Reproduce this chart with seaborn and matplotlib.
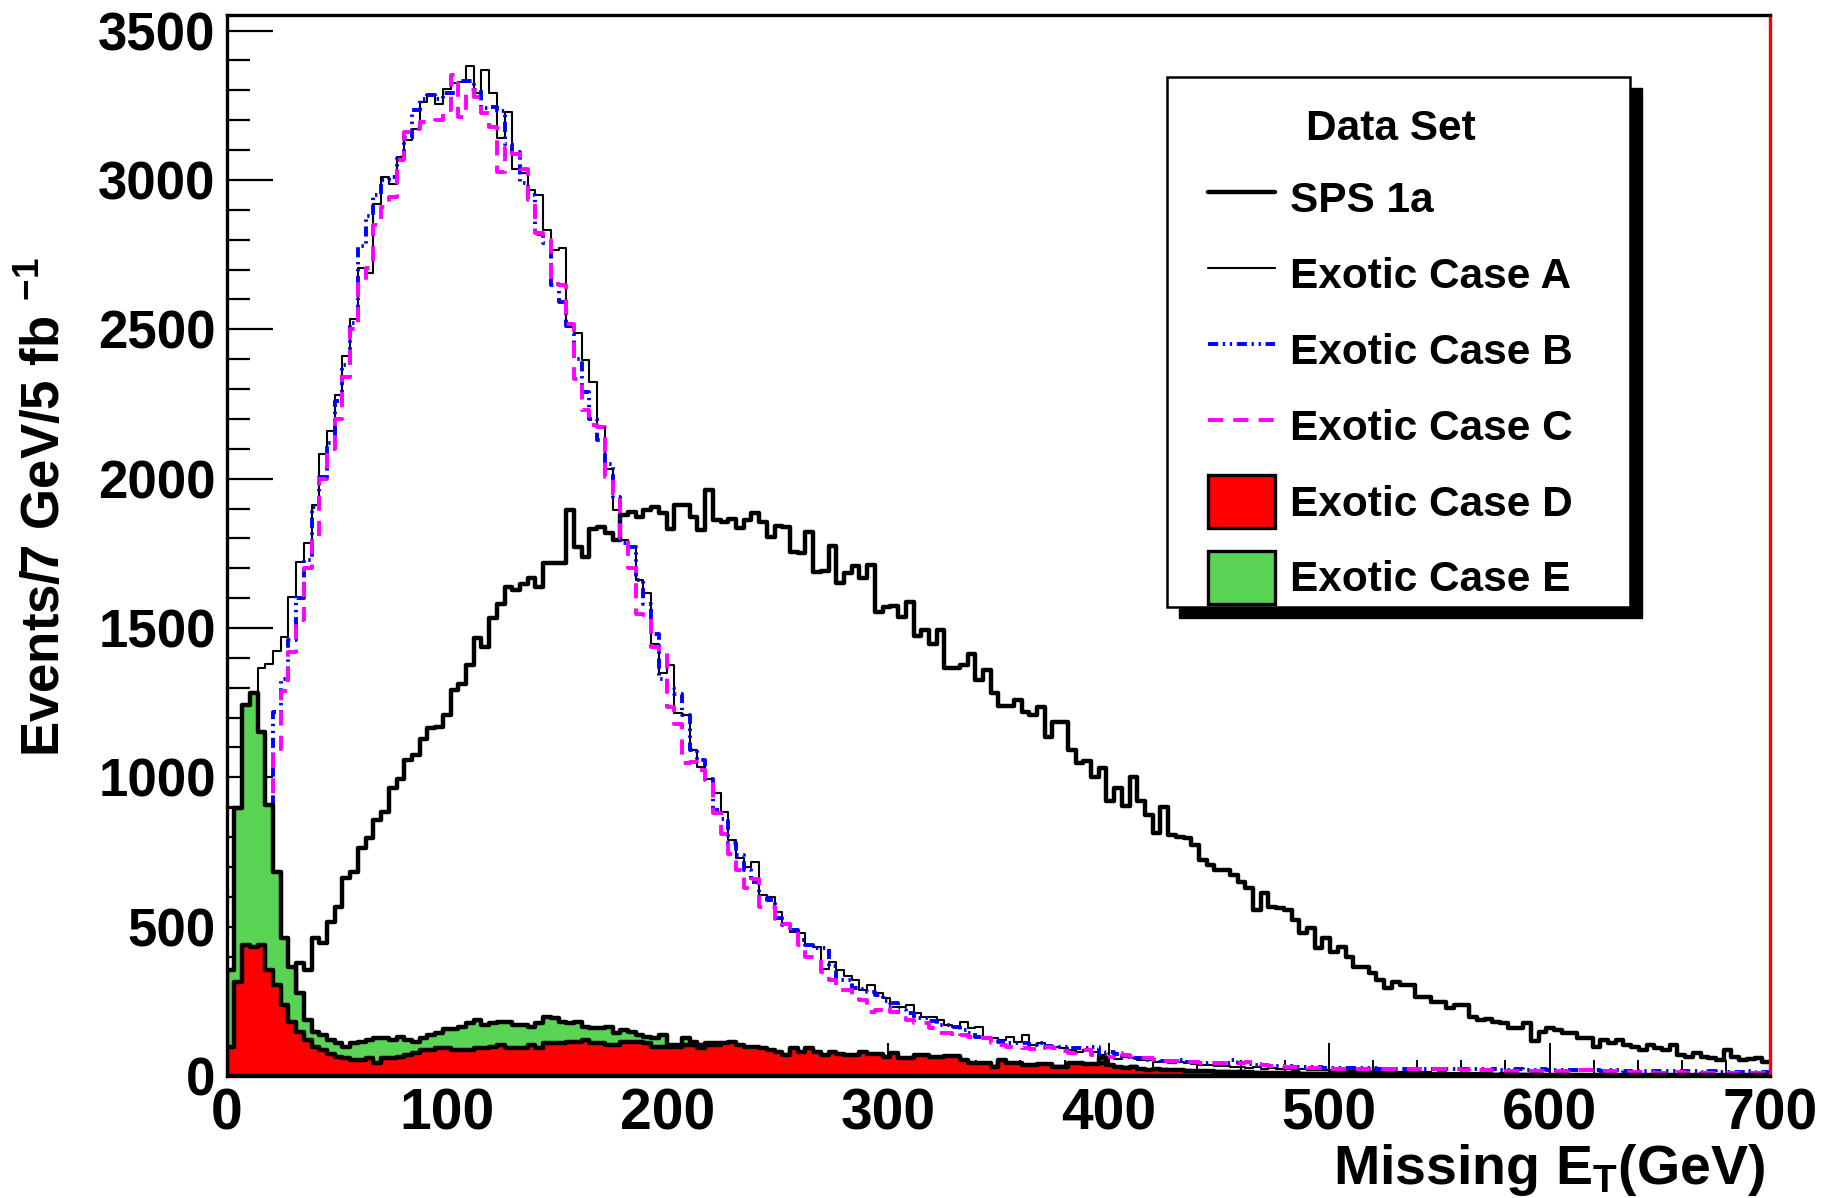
import numpy as np
import pandas as pd
import matplotlib
matplotlib.use("Agg")
import matplotlib.pyplot as plt
import matplotlib.ticker as mticker
from matplotlib.lines import Line2D
from matplotlib.patches import Patch, Rectangle
import seaborn as sns

sns.set_theme(style="ticks")
plt.rcParams["font.family"] = ["Liberation Sans", "DejaVu Sans"]
plt.rcParams["font.weight"] = "bold"
plt.rcParams["mathtext.fontset"] = "custom"
plt.rcParams["mathtext.rm"] = "Liberation Sans:bold"
plt.rcParams["mathtext.it"] = "Liberation Sans:bold"
plt.rcParams["mathtext.bf"] = "Liberation Sans:bold"
for key in ["text.color", "axes.labelcolor", "xtick.color", "ytick.color", "axes.edgecolor"]:
    plt.rcParams[key] = "black"

# 200 bins of 3.5 GeV from 0 to 700 GeV
edges = [3.5 * i for i in range(201)]
centers = [3.5 * i + 1.75 for i in range(200)]

sps1a = [
    0, 0, 0, 0, 0, 0, 0, 0, 0, 380,
    355, 461, 444, 517, 567, 662, 684, 762, 796, 857,
    885, 963, 996, 1058, 1074, 1130, 1164, 1169, 1208, 1292,
    1314, 1376, 1465, 1437, 1532, 1582, 1638, 1627, 1649, 1666,
    1638, 1718, 1718, 1718, 1895, 1772, 1738, 1833, 1839, 1817,
    1794, 1878, 1889, 1872, 1895, 1906, 1884, 1833, 1911, 1911,
    1872, 1828, 1962, 1862, 1856, 1865, 1834, 1862, 1884, 1856,
    1806, 1842, 1837, 1756, 1750, 1823, 1689, 1692, 1776, 1650,
    1683, 1708, 1666, 1711, 1555, 1571, 1574, 1538, 1588, 1474,
    1493, 1446, 1493, 1365, 1365, 1376, 1413, 1326, 1359, 1284,
    1239, 1239, 1259, 1220, 1209, 1234, 1134, 1186, 1186, 1092,
    1047, 1056, 1000, 1030, 922, 963, 904, 1000, 921, 874,
    813, 902, 807, 801, 796, 774, 723, 707, 690, 690,
    673, 651, 628, 556, 612, 567, 562, 556, 522, 478,
    495, 428, 461, 416, 433, 400, 366, 366, 344, 322,
    294, 316, 305, 305, 266, 266, 249, 249, 227, 238,
    238, 199, 188, 190, 182, 176, 160, 160, 176, 118,
    149, 160, 154, 143, 143, 126, 126, 98, 121, 110,
    121, 104, 98, 87, 104, 93, 87, 104, 70, 65,
    76, 65, 59, 54, 87, 65, 54, 56, 59, 48,
]

case_a = [
    896, 900, 1245, 1285, 1365, 1381, 1424, 1471, 1605, 1722,
    1785, 1911, 2084, 2160, 2279, 2410, 2536, 2704, 2687, 2921,
    3011, 2988, 3077, 3133, 3172, 3262, 3284, 3256, 3306, 3323,
    3329, 3381, 3290, 3368, 3290, 3139, 3228, 3038, 3022, 2966,
    2949, 2832, 2765, 2771, 2508, 2486, 2397, 2324, 2174, 2034,
    1895, 1794, 1772, 1660, 1616, 1448, 1348, 1376, 1214, 1208,
    1091, 1035, 996, 946, 885, 790, 729, 701, 718, 606,
    600, 550, 511, 483, 478, 439, 433, 360, 383, 355,
    335, 321, 288, 305, 277, 260, 232, 232, 238, 210,
    199, 199, 188, 171, 165, 182, 160, 165, 132, 126,
    121, 132, 115, 137, 104, 109, 98, 98, 93, 87,
    81, 87, 81, 70, 62, 58, 65, 60, 53, 55,
    48, 50, 45, 47, 42, 40, 37, 38, 33, 35,
    31, 30, 28, 29, 25, 26, 24, 23, 21, 22,
    20, 19, 20, 18, 17, 18, 16, 15, 16, 14,
    15, 13, 14, 12, 13, 12, 11, 12, 10, 11,
    10, 9, 10, 9, 8, 9, 8, 8, 7, 8,
    7, 7, 6, 7, 6, 6, 5, 6, 5, 5,
    5, 4, 5, 4, 4, 4, 3, 4, 3, 3,
    3, 3, 2, 3, 2, 2, 2, 2, 2, 1,
]

case_b = [
    0, 0, 0, 0, 0, 0, 1220, 1330, 1460, 1600,
    1727, 1906, 2006, 2118, 2260, 2380, 2520, 2780, 2880, 2950,
    3000, 3010, 3077, 3140, 3234, 3270, 3284, 3270, 3290, 3290,
    3330, 3330, 3300, 3240, 3245, 3230, 3120, 3095, 2990, 2950,
    2820, 2790, 2650, 2590, 2510, 2400, 2290, 2200, 2130, 2050,
    1940, 1783, 1772, 1660, 1580, 1480, 1330, 1300, 1280, 1208,
    1090, 1058, 996, 890, 860, 780, 740, 690, 650, 600,
    590, 530, 505, 490, 455, 438, 430, 430, 370, 320,
    320, 295, 290, 282, 270, 250, 243, 221, 210, 193,
    193, 185, 171, 170, 165, 154, 145, 132, 126, 120,
    115, 109, 109, 109, 105, 109, 100, 98, 98, 95,
    93, 95, 98, 60, 81, 75, 65, 62, 59, 54,
    53, 52, 50, 53, 48, 47, 45, 44, 42, 45,
    53, 45, 40, 38, 36, 35, 33, 32, 31, 30,
    30, 29, 28, 28, 27, 27, 27, 26, 26, 25,
    25, 25, 24, 24, 25, 25, 24, 23, 23, 22,
    23, 22, 22, 21, 22, 21, 21, 22, 21, 20,
    23, 21, 20, 20, 19, 20, 19, 19, 18, 19,
    20, 18, 18, 17, 18, 17, 17, 16, 17, 16,
    16, 15, 16, 15, 15, 15, 14, 16, 14, 14,
]

case_c = [
    0, 0, 0, 0, 0, 0, 1095, 1290, 1420, 1527,
    1700, 1805, 2000, 2100, 2200, 2341, 2500, 2653, 2704, 2850,
    2910, 2944, 3066, 3161, 3172, 3195, 3195, 3200, 3234, 3350,
    3211, 3300, 3278, 3223, 3178, 3027, 3111, 3088, 3038, 2932,
    2821, 2798, 2653, 2648, 2519, 2335, 2230, 2180, 2174, 2006,
    1950, 1800, 1700, 1548, 1543, 1437, 1415, 1236, 1180, 1047,
    1052, 1024, 990, 880, 810, 745, 690, 630, 660, 567,
    567, 525, 510, 485, 440, 400, 400, 350, 321, 288,
    288, 270, 255, 215, 221, 232, 215, 193, 188, 176,
    176, 160, 143, 143, 132, 137, 130, 126, 126, 109,
    105, 98, 98, 95, 90, 87, 98, 93, 85, 76,
    80, 87, 70, 59, 65, 76, 70, 65, 62, 59,
    53, 52, 50, 49, 48, 46, 45, 44, 43, 42,
    42, 45, 48, 40, 37, 35, 33, 31, 30, 29,
    28, 27, 26, 25, 25, 25, 25, 24, 25, 24,
    24, 23, 24, 23, 23, 22, 23, 23, 22, 22,
    21, 22, 20, 19, 18, 17, 17, 16, 17, 16,
    17, 16, 17, 18, 19, 20, 20, 20, 18, 16,
    15, 14, 13, 12, 12, 11, 11, 11, 12, 11,
    11, 10, 11, 11, 10, 11, 10, 10, 9, 9,
]

case_d = [
    98, 316, 438, 433, 438, 355, 305, 238, 182, 148,
    120, 98, 87, 75, 65, 59, 54, 54, 59, 42,
    59, 59, 65, 70, 76, 87, 87, 93, 93, 87,
    87, 87, 93, 93, 98, 104, 93, 93, 93, 104,
    93, 109, 109, 109, 115, 115, 120, 109, 109, 104,
    104, 115, 115, 115, 109, 98, 98, 98, 98, 104,
    104, 93, 104, 104, 109, 115, 104, 98, 98, 93,
    87, 81, 70, 93, 81, 93, 81, 70, 81, 73,
    70, 70, 81, 73, 73, 65, 76, 59, 59, 70,
    70, 65, 65, 67, 67, 54, 42, 42, 42, 31,
    54, 42, 42, 37, 37, 39, 39, 31, 31, 42,
    42, 40, 40, 42, 36, 30, 28, 31, 22, 20,
    22, 21, 20, 19, 18, 17, 16, 17, 15, 14,
    13, 14, 12, 11, 11, 10, 9, 10, 9, 8,
    8, 8, 7, 7, 7, 6, 6, 6, 6, 5,
    5, 5, 5, 5, 4, 4, 4, 4, 4, 4,
    3, 3, 3, 3, 3, 3, 3, 3, 3, 2,
    2, 2, 2, 2, 2, 2, 2, 2, 2, 2,
    2, 2, 2, 2, 2, 2, 2, 2, 2, 2,
    2, 2, 2, 2, 2, 2, 2, 2, 2, 2,
]

case_e = [
    355, 896, 1242, 1281, 1153, 907, 684, 461, 366, 277,
    187, 148, 137, 120, 110, 98, 109, 115, 120, 126,
    126, 120, 132, 120, 115, 126, 137, 143, 156, 156,
    165, 176, 187, 171, 176, 182, 182, 171, 171, 165,
    176, 199, 193, 182, 176, 182, 165, 160, 160, 165,
    143, 154, 148, 137, 132, 126, 137, 104, 104, 126,
    115, 104, 109, 109, 104, 110, 100, 95, 94, 90,
    84, 78, 67, 88, 78, 88, 78, 67, 77, 70,
    67, 67, 77, 70, 70, 62, 72, 56, 56, 66,
    66, 62, 62, 64, 64, 51, 40, 40, 40, 29,
    50, 40, 40, 35, 35, 37, 37, 29, 29, 40,
    40, 38, 38, 60, 34, 28, 26, 29, 20, 18,
    20, 19, 18, 17, 16, 15, 14, 15, 13, 12,
    11, 12, 10, 9, 9, 8, 8, 8, 7, 7,
    7, 6, 6, 6, 5, 5, 5, 5, 5, 4,
    4, 4, 4, 4, 3, 3, 3, 3, 3, 3,
    2, 2, 2, 2, 2, 2, 2, 2, 2, 2,
    1, 1, 1, 1, 1, 1, 1, 1, 1, 1,
    1, 1, 1, 1, 1, 1, 1, 1, 1, 1,
    1, 1, 1, 1, 1, 1, 1, 1, 1, 1,
]

labels = ["SPS 1a", "Exotic Case A", "Exotic Case B", "Exotic Case C",
          "Exotic Case D", "Exotic Case E"]

df = pd.DataFrame({"met": centers, "sps": sps1a, "a": case_a, "b": case_b,
                   "c": case_c, "d": case_d, "e": case_e})

green = "#59d454"
dashdot = (0, (2.6, 1.2, 0.6, 1.2, 0.6, 1.2))
dashed = (0, (3.9, 2.6))

fig = plt.figure(figsize=(18.39, 11.98), dpi=100)
ax = fig.add_axes([0.1233, 0.1018, 0.8392, 0.8856])

# outline histograms (drawn under the filled ones)
sns.histplot(data=df, x="met", weights="sps", bins=edges, element="step", fill=False,
             color="black", linewidth=3.2, ax=ax, zorder=2)
sns.histplot(data=df, x="met", weights="a", bins=edges, element="step", fill=False,
             color="black", linewidth=1.5, ax=ax, zorder=2)
sns.histplot(data=df, x="met", weights="b", bins=edges, element="step", fill=False,
             color="#0000ff", linewidth=2.8, linestyle=dashdot, ax=ax, zorder=2)
sns.histplot(data=df, x="met", weights="c", bins=edges, element="step", fill=False,
             color="#ff00ff", linewidth=2.8, linestyle=dashed, ax=ax, zorder=2)

# filled histograms
sns.histplot(data=df, x="met", weights="e", bins=edges, element="step", fill=True,
             color=green, alpha=1, edgecolor="black", linewidth=3.2, ax=ax, zorder=3)
sns.histplot(data=df, x="met", weights="d", bins=edges, element="step", fill=True,
             color="#ff0000", alpha=1, edgecolor="black", linewidth=3.2, ax=ax, zorder=4)

ax.set_xlim(0, 700)
ax.set_ylim(0, 3552)
ax.set_xlabel("")
ax.set_ylabel("")

ax.xaxis.set_major_locator(mticker.MultipleLocator(100))
ax.xaxis.set_minor_locator(mticker.MultipleLocator(20))
ax.yaxis.set_major_locator(mticker.MultipleLocator(500))
ax.yaxis.set_minor_locator(mticker.MultipleLocator(100))
ax.tick_params(axis="y", which="major", direction="in", length=33, width=1.6,
               labelsize=38, pad=8, left=True, right=False, colors="black")
ax.tick_params(axis="y", which="minor", direction="in", length=16.5, width=1.6,
               left=True, right=False, colors="black")
ax.tick_params(axis="x", which="major", direction="in", length=24, width=1.4,
               labelsize=41, pad=8, bottom=True, top=False, colors="black")
ax.tick_params(axis="x", which="minor", direction="in", length=11.5, width=1.4,
               bottom=True, top=False, colors="black")
for lab in ax.get_xticklabels() + ax.get_yticklabels():
    lab.set_fontweight("bold")

for side in ["left", "bottom", "top"]:
    ax.spines[side].set_color("black")
    ax.spines[side].set_linewidth(2.4)
ax.spines["right"].set_color("#ff0000")
ax.spines["right"].set_linewidth(2.4)
for sp in ax.spines.values():
    sp.set_zorder(6)

ax.text(0.9968, -0.1018, r"Missing E$_{T}$(GeV)", transform=ax.transAxes,
        ha="right", va="baseline", fontsize=40, fontweight="bold", color="black")
ax.text(-0.1177, 0.536, r"Events/7 GeV/5 fb $^{-1}$", transform=ax.transAxes,
        ha="center", va="center", rotation=90, fontsize=38, fontweight="bold",
        color="black")

# legend box with a solid drop shadow
ax.add_patch(Rectangle((0.6171, 0.4316), 0.3000, 0.4995, transform=ax.transAxes,
                       facecolor="black", edgecolor="black", clip_on=False, zorder=7))
ax.add_patch(Rectangle((0.6093, 0.4420), 0.3000, 0.4995, transform=ax.transAxes,
                       facecolor="white", edgecolor="black", linewidth=1.8,
                       clip_on=False, zorder=8))

handles = [
    Line2D([], [], color="black", linewidth=3.2),
    Line2D([], [], color="black", linewidth=1.5),
    Line2D([], [], color="#0000ff", linewidth=2.8, linestyle=dashdot),
    Line2D([], [], color="#ff00ff", linewidth=2.8, linestyle=dashed),
    Patch(facecolor="#ff0000", edgecolor="black", linewidth=2.4),
    Patch(facecolor=green, edgecolor="black", linewidth=2.4),
]
leg = ax.legend(handles, labels, title="Data Set", loc="upper left",
                bbox_to_anchor=(0.6359, 0.9114), borderaxespad=0, frameon=False,
                prop={"size": 30.5, "weight": "bold"},
                title_fontproperties={"size": 30.5, "weight": "bold"},
                handlelength=1.58, handleheight=1.545, handletextpad=0.35,
                labelspacing=0.54, borderpad=0)
leg.set_zorder(10)

fig.savefig("out.png", dpi=100, facecolor="white")
